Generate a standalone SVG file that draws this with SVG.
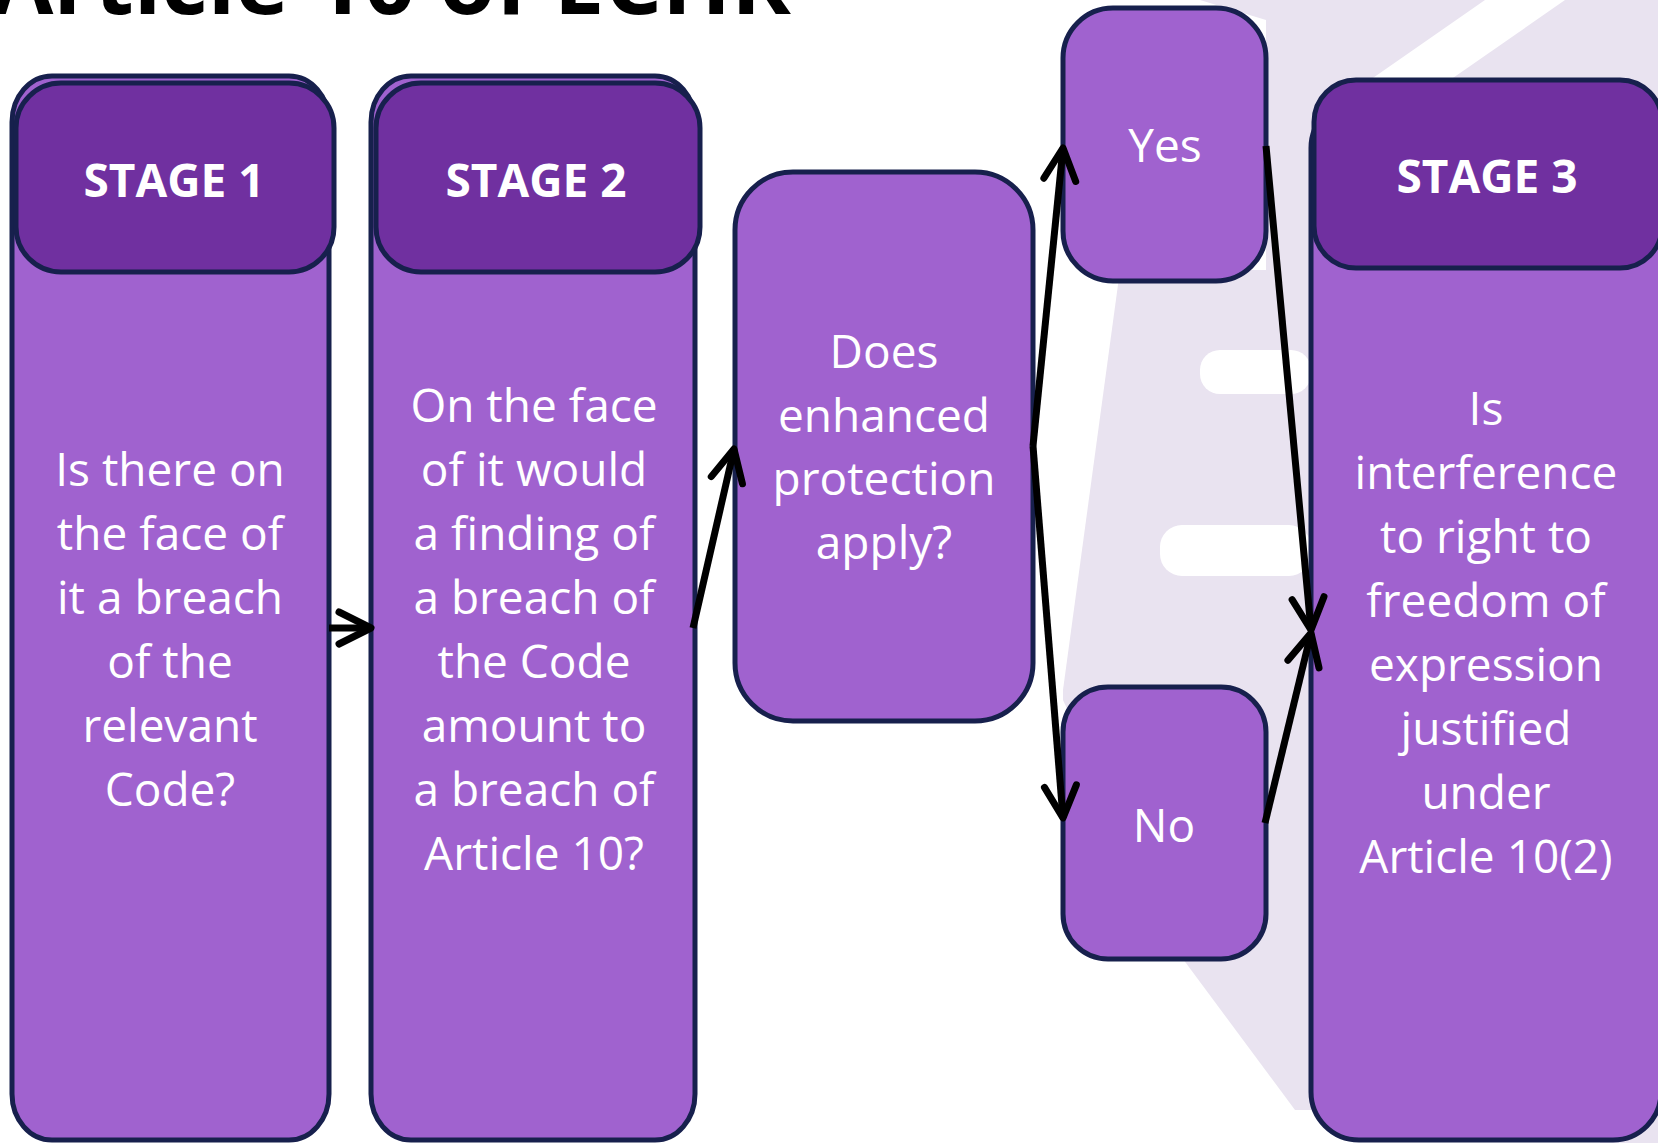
<svg xmlns="http://www.w3.org/2000/svg" width="1658" height="1143" viewBox="0 0 1658 1143">
<defs>
<style>
.body{fill:#A062CF;stroke:#17204D;stroke-width:5}
.head{fill:#7030A0;stroke:#17204D;stroke-width:5}
.txt{font-family:"Open Sans","Liberation Sans",sans-serif;font-size:46px;fill:#FFFFFF;text-anchor:middle}
.htxt{font-family:"Open Sans","Liberation Sans",sans-serif;font-size:46px;font-weight:bold;fill:#FFFFFF;text-anchor:middle}
.wm{fill:#E9E3F0}
.wmw{fill:#FFFFFF}
.conn{stroke:#000000;stroke-width:7;fill:none;marker-end:url(#ah)}
</style>
<marker id="ah" markerUnits="userSpaceOnUse" viewBox="-40 -22 46 44" markerWidth="46" markerHeight="44" refX="0" refY="0" orient="auto" overflow="visible">
<path d="M-32,-16 L0,0 L-32,16" fill="none" stroke="#000000" stroke-width="7" stroke-linejoin="round" stroke-linecap="round"/>
</marker>
</defs>
<rect x="0" y="0" width="1658" height="1143" fill="#FFFFFF"/>
<g id="watermark">
<polygon class="wm" points="1200,0 1658,0 1658,100 1266,100 1266,20"/>
<polygon class="wmw" points="1485,0 1565,0 1450,80 1370,80"/>
<polygon class="wm" points="1266,60 1320,60 1320,290 1266,290"/>
<polygon class="wm" points="1120,270 1320,270 1320,1110 1295,1110 1180,955 1063,700 1063,690"/>
<rect class="wmw" x="1200" y="350" width="111" height="44" rx="20"/>
<rect class="wmw" x="1160" y="525" width="151" height="51" rx="22"/>
<polygon class="wm" points="1600,1090 1658,1060 1658,1143 1600,1143"/>
</g>
<g id="title">
<text x="-9" y="14" font-family="'Open Sans','Liberation Sans',sans-serif" font-size="88" font-weight="bold" fill="#000000" textLength="800" lengthAdjust="spacingAndGlyphs">Article 10 of ECHR</text>
</g>
<g id="stage1">
<rect class="body" x="12" y="76" width="317" height="1064" rx="40" ry="46"/>
<rect class="head" x="16" y="83" width="318" height="189" rx="45"/>
<text class="htxt" x="174" y="197">STAGE 1</text>
<text class="txt"><tspan x="170" y="486">Is there on</tspan><tspan x="170" y="550">the face of</tspan><tspan x="170" y="614">it a breach</tspan><tspan x="170" y="678">of the</tspan><tspan x="170" y="742">relevant</tspan><tspan x="170" y="806">Code?</tspan></text>
</g>
<g id="stage2">
<rect class="body" x="371" y="76" width="324" height="1064" rx="40" ry="46"/>
<rect class="head" x="376" y="83" width="324" height="189" rx="45"/>
<text class="htxt" x="536" y="197">STAGE 2</text>
<text class="txt"><tspan x="534" y="422">On the face</tspan><tspan x="534" y="486">of it would</tspan><tspan x="534" y="550">a finding of</tspan><tspan x="534" y="614">a breach of</tspan><tspan x="534" y="678">the Code</tspan><tspan x="534" y="742">amount to</tspan><tspan x="534" y="806">a breach of</tspan><tspan x="534" y="870">Article 10?</tspan></text>
</g>
<g id="question">
<rect class="body" x="735" y="172" width="298" height="549" rx="58"/>
<text class="txt"><tspan x="884" y="368">Does</tspan><tspan x="884" y="432">enhanced</tspan><tspan x="884" y="495">protection</tspan><tspan x="884" y="559">apply?</tspan></text>
</g>
<g id="yes">
<rect class="body" x="1063" y="8" width="203" height="273" rx="50"/>
<text class="txt" x="1165" y="162">Yes</text>
</g>
<g id="no">
<rect class="body" x="1063" y="687" width="203" height="272" rx="45"/>
<text class="txt" x="1164" y="842">No</text>
</g>
<g id="stage3">
<rect class="body" x="1311" y="100" width="350" height="1040" rx="48"/>
<rect class="head" x="1314" y="80" width="348" height="188" rx="42"/>
<text class="htxt" x="1487" y="193">STAGE 3</text>
<text class="txt"><tspan x="1486" y="425">Is</tspan><tspan x="1486" y="489">interference</tspan><tspan x="1486" y="553">to right to</tspan><tspan x="1486" y="617">freedom of</tspan><tspan x="1486" y="681">expression</tspan><tspan x="1486" y="745">justified</tspan><tspan x="1486" y="809">under</tspan><tspan x="1486" y="873">Article 10(2)</tspan></text>
</g>
<g id="connectors">
<line class="conn" x1="329" y1="628" x2="371" y2="628"/>
<line class="conn" x1="693" y1="628" x2="734" y2="449"/>
<line class="conn" x1="1033" y1="446" x2="1063" y2="148"/>
<line class="conn" x1="1033" y1="446" x2="1063" y2="818"/>
<line class="conn" x1="1266" y1="146" x2="1311" y2="630"/>
<line class="conn" x1="1265" y1="823" x2="1311" y2="633"/>
</g>
</svg>
